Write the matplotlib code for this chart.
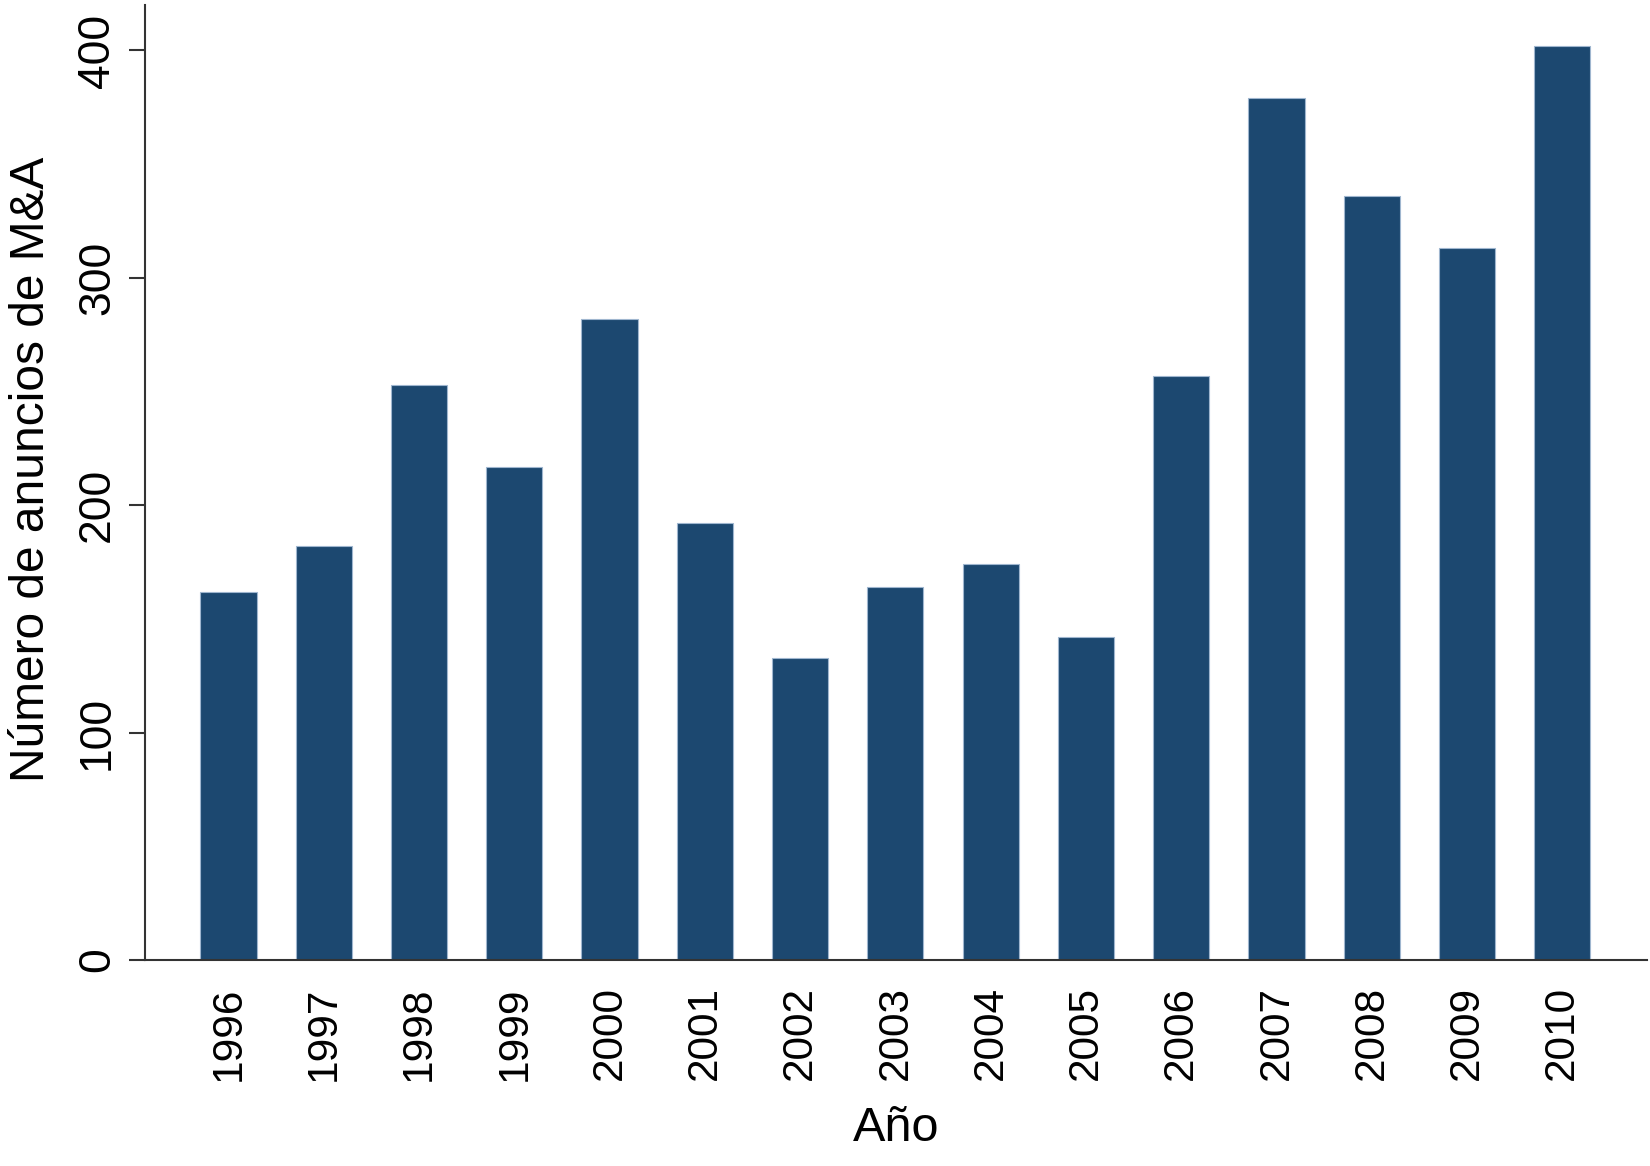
import matplotlib
matplotlib.use('Agg')
import matplotlib.pyplot as plt

years = ['1996', '1997', '1998', '1999', '2000', '2001', '2002', '2003',
         '2004', '2005', '2006', '2007', '2008', '2009', '2010']
anuncios = [162, 182, 253, 217, 282, 192, 133, 164, 174, 142, 257, 379, 336, 313, 402]
yticks = [0, 100, 200, 300, 400]

plt.rcParams['font.family'] = ['Liberation Sans', 'DejaVu Sans']

fig = plt.figure(figsize=(16.5, 11.66), dpi=100)
ax = fig.add_axes([0.0879, 0.1767, 0.9101, 0.819])

x = range(len(years))
ax.bar(x, anuncios, width=0.59, color='#1c4870', edgecolor='#9fb6cf', linewidth=0.8)

ax.set_xlim(-0.875, 14.885)
ax.set_ylim(0, 420)
ax.set_xticks(list(x))
ax.set_xticklabels(years, rotation=90, fontsize=30.5)
ax.set_yticks(yticks)
ax.set_yticklabels([str(v) for v in yticks], rotation=90, va='center', fontsize=32)

ax.tick_params(axis='x', length=0, pad=19)
ax.tick_params(axis='y', length=11.5, width=1.5, pad=8, color='#333333')

for side in ['top', 'right']:
    ax.spines[side].set_visible(False)
for side in ['left', 'bottom']:
    ax.spines[side].set_linewidth(1.5)
    ax.spines[side].set_color('#333333')

ax.set_ylabel('Número de anuncios de M&A', fontsize=34.5)
ax.yaxis.set_label_coords(-0.0606, 0.514)
ax.set_xlabel('Año', fontsize=35, labelpad=18)

fig.savefig('out.png', dpi=100)
